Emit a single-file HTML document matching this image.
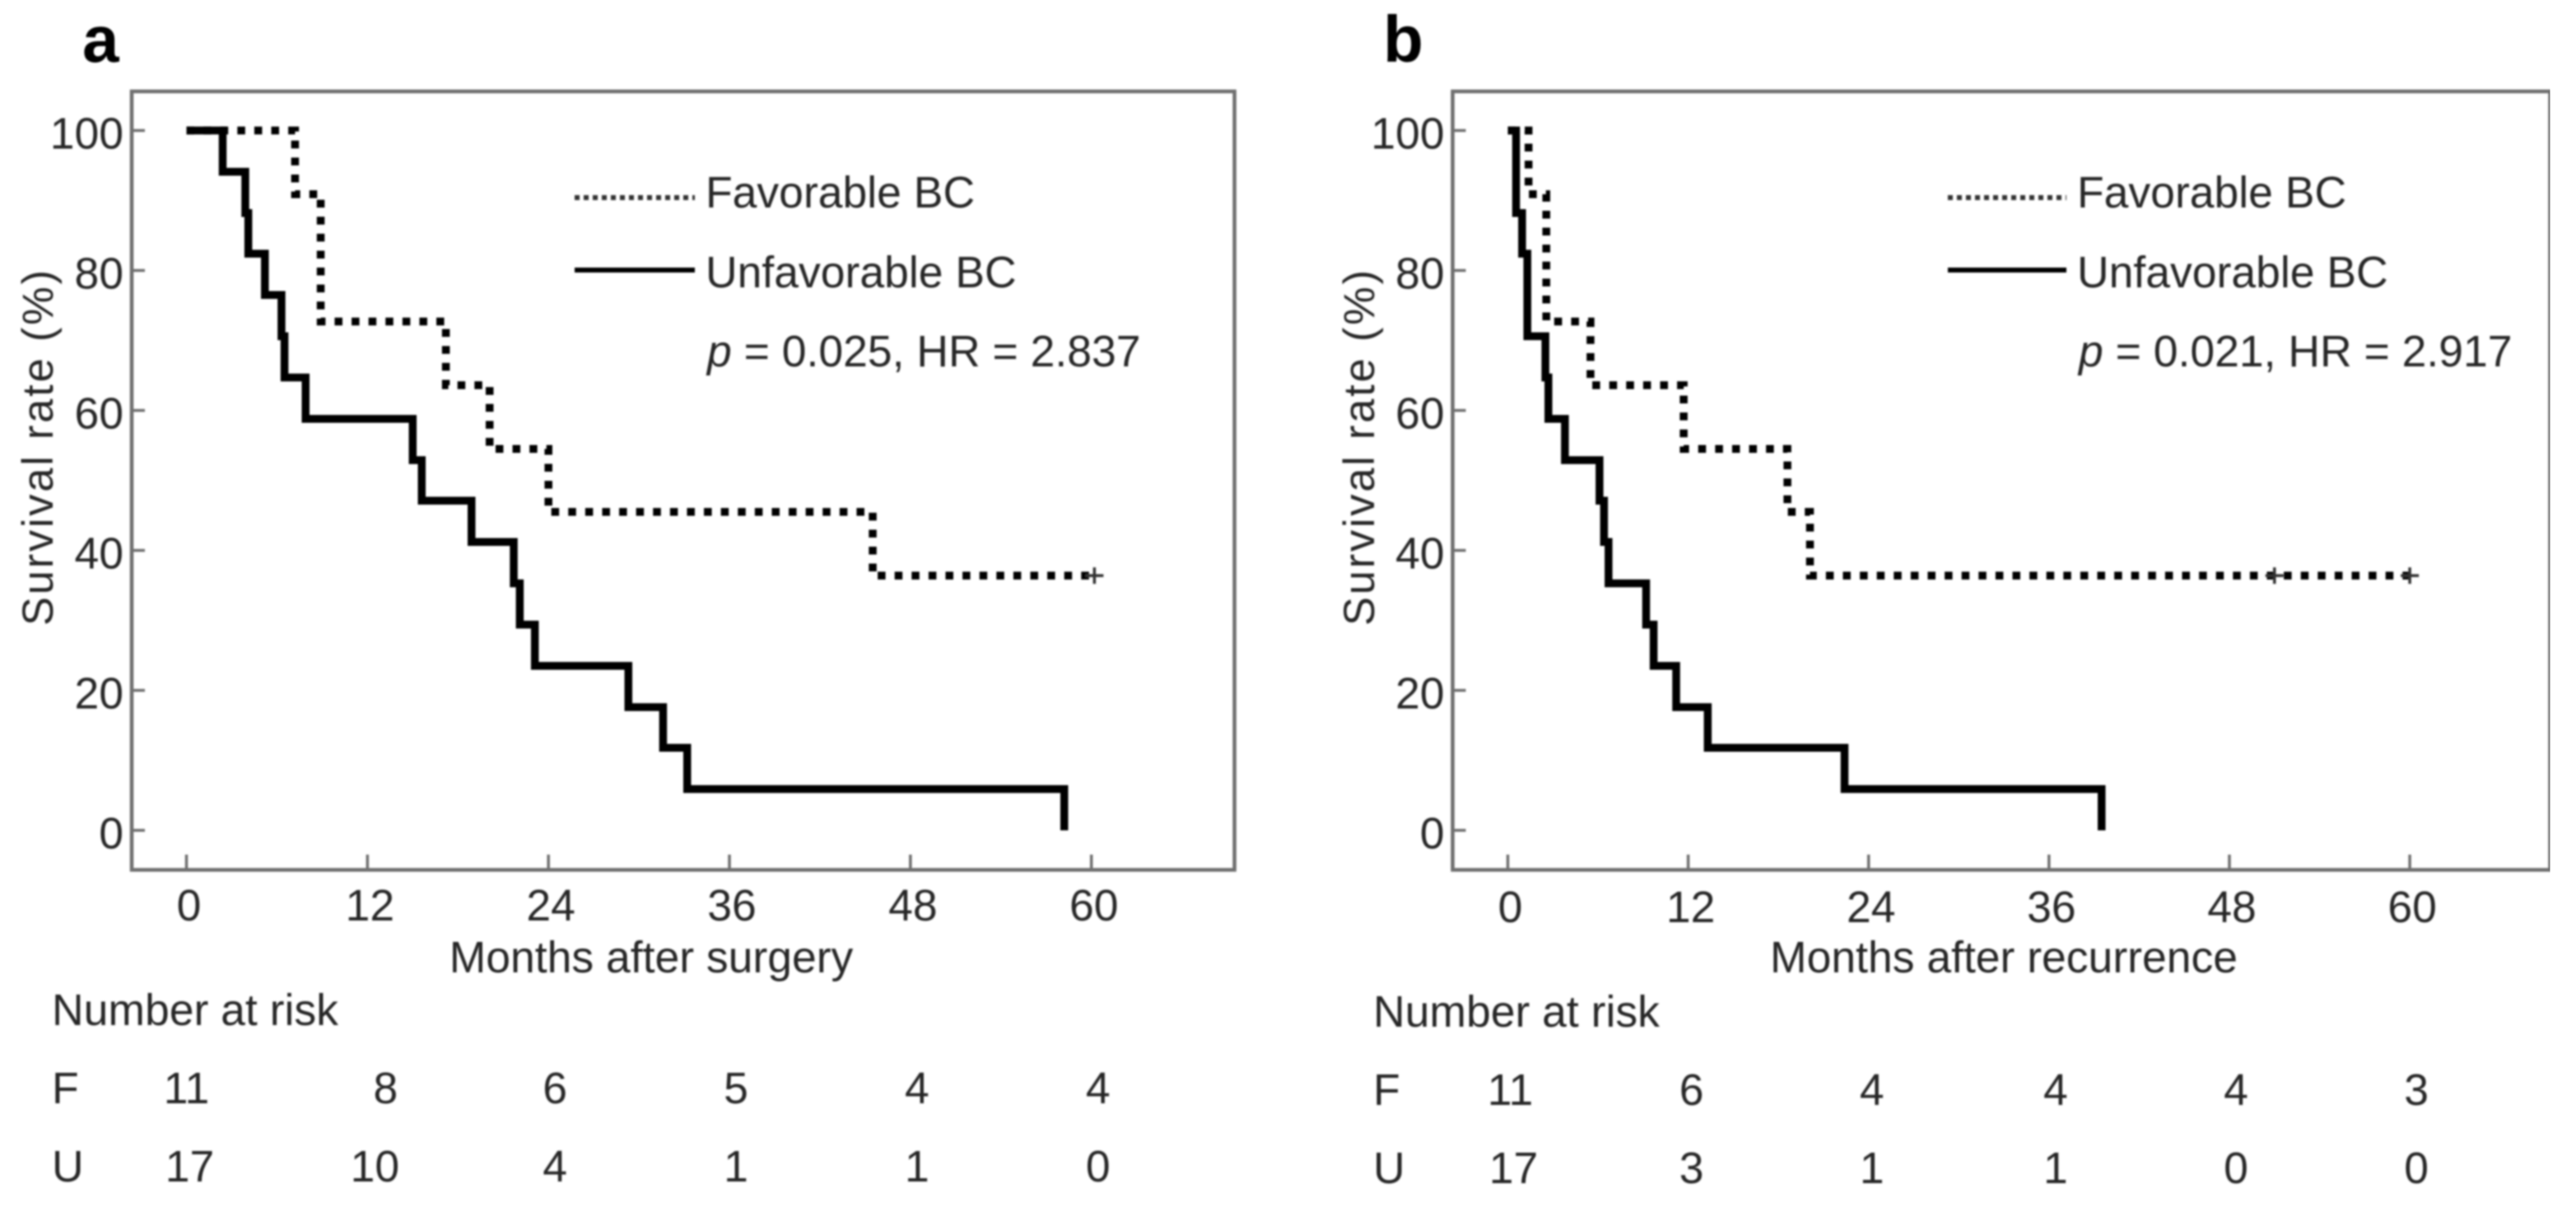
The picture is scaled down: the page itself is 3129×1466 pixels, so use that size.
<!DOCTYPE html>
<html lang="en">
<head>
<meta charset="utf-8">
<title>Kaplan-Meier survival curves</title>
<style>
html,body{margin:0;padding:0;background:#fff;}
svg{display:block;}
text{font-family:"Liberation Sans",Arial,sans-serif;font-size:53.5px;fill:#282828;}
</style>
</head>
<body>
<svg id="figure" xmlns="http://www.w3.org/2000/svg" width="3129" height="1466" viewBox="0 0 3129 1466">
<defs><filter id="soft" x="0" y="0" width="100%" height="100%"><feGaussianBlur stdDeviation="1"/></filter></defs>
<rect x="0" y="0" width="3129" height="1466" fill="#fff"/>
<g id="root" filter="url(#soft)">
<text x="100" y="75" style="font-size:80px;font-weight:bold;fill:#000">a</text>
<text x="1680" y="75" style="font-size:80px;font-weight:bold;fill:#000">b</text>

<text transform="translate(64,544) rotate(-90)" text-anchor="middle" style="font-size:52.5px" textLength="432" lengthAdjust="spacing">Survival rate (%)</text>
<text transform="translate(1669,544) rotate(-90)" text-anchor="middle" style="font-size:52.5px" textLength="432" lengthAdjust="spacing">Survival rate (%)</text>

<text x="791" y="1181" text-anchor="middle">Months after surgery</text>
<text x="2434" y="1181" text-anchor="middle">Months after recurrence</text>

<line x1="698" y1="240" x2="844" y2="240" stroke="#333" stroke-width="6" stroke-dasharray="6 5"/>
<text x="857" y="252">Favorable BC</text>
<line x1="698" y1="328" x2="844" y2="328" stroke="#000" stroke-width="6"/>
<text x="857" y="349">Unfavorable BC</text>
<text x="859" y="445"><tspan font-style="italic">p</tspan> = 0.025, HR = 2.837</text>

<line x1="2366" y1="240" x2="2510" y2="240" stroke="#333" stroke-width="6" stroke-dasharray="6 5"/>
<text x="2523" y="252">Favorable BC</text>
<line x1="2366" y1="328" x2="2510" y2="328" stroke="#000" stroke-width="6"/>
<text x="2523" y="349">Unfavorable BC</text>
<text x="2525" y="445"><tspan font-style="italic">p</tspan> = 0.021, HR = 2.917</text>

<text x="63" y="1245">Number at risk</text>
<text x="63" y="1340">F</text>
<text x="63" y="1435">U</text>
<text x="1668" y="1247">Number at risk</text>
<text x="1668" y="1342">F</text>
<text x="1668" y="1437">U</text>
</g>
</svg>
<script>
// Shared axis values
const xTickLabels = [0, 12, 24, 36, 48, 60];
const yTickLabels = [0, 20, 40, 60, 80, 100];

// Panel a: months after surgery
const aFavTimes = [0, 7.2, 8.9, 17.2, 20.1, 24.0, 45.5, 60.2];
const aFavSurvival = [100, 90.9, 72.7, 63.6, 54.5, 45.5, 36.4, 36.4];
const aFavCensored = [60.2];
const aUnfTimes = [0, 2.4, 3.9, 4.1, 5.2, 6.3, 6.5, 7.9, 15.0, 15.6, 18.9, 21.7, 22.1, 23.1, 29.3, 31.6, 33.2, 58.2];
const aUnfSurvival = [100, 94.1, 88.2, 82.4, 76.5, 70.6, 64.7, 58.8, 52.9, 47.1, 41.2, 35.3, 29.4, 23.5, 17.6, 11.8, 5.9, 0];
const aRiskFav = [11, 8, 6, 5, 4, 4];
const aRiskUnf = [17, 10, 4, 1, 1, 0];

// Panel b: months after recurrence
const bFavTimes = [0, 1.38, 2.56, 5.5, 11.7, 18.6, 20.1, 60];
const bFavSurvival = [100, 90.9, 72.7, 63.6, 54.5, 45.5, 36.4, 36.4];
const bFavCensored = [51, 60];
const bUnfTimes = [0, 0.55, 0.95, 1.3, 2.5, 2.7, 3.8, 6.1, 6.4, 6.7, 9.2, 9.7, 11.2, 13.3, 22.4, 39.5];
const bUnfSurvival = [100, 88.2, 82.4, 70.6, 64.7, 58.8, 52.9, 47.1, 41.2, 35.3, 29.4, 23.5, 17.6, 11.8, 5.9, 0];
const bRiskFav = [11, 6, 4, 4, 4, 3];
const bRiskUnf = [17, 3, 1, 1, 0, 0];

const SVG_NS = 'http://www.w3.org/2000/svg';
const root = document.getElementById('root');

function make(tag, attrs, text) {
  const el = document.createElementNS(SVG_NS, tag);
  for (const k in attrs) el.setAttribute(k, attrs[k]);
  if (text !== undefined) el.textContent = text;
  root.appendChild(el);
  return el;
}

function stepPath(times, values, sx, sy) {
  let d = 'M' + sx(times[0]) + ' ' + sy(values[0]);
  for (let i = 1; i < times.length; i++) {
    d += ' H' + sx(times[i]) + ' V' + sy(values[i]);
  }
  return d;
}

function drawPanel(p, name) {
  const sx = m => p.x0 + p.xStep * m;
  const sy = v => 1008.5 - 8.5 * v;

  const frame = make('rect', {x: p.left, y: 111, width: p.right - p.left, height: 945.5, fill: 'none', stroke: '#6f6f6f', 'stroke-width': 4.5});
  
  

  xTickLabels.forEach(function (t) {
    const tick = make('line', {x1: sx(t), x2: sx(t), y1: 1056, y2: 1038, stroke: '#6f6f6f', 'stroke-width': 3.5});
    
    
    const label = make('text', {x: sx(t) + 3, y: p.tickBase, 'text-anchor': 'middle'}, String(t));
    
    
  });

  yTickLabels.forEach(function (v) {
    const tick = make('line', {x1: p.left, x2: p.left + 16, y1: sy(v), y2: sy(v), stroke: '#6f6f6f', 'stroke-width': 3.5});
    
    
    const label = make('text', {x: p.left - 10, y: sy(v) + 22, 'text-anchor': 'end'}, String(v));
    
    
  });

  const fav = make('path', {d: stepPath(p.favT, p.favS, sx, sy), fill: 'none', stroke: '#000', 'stroke-width': 9.5, 'stroke-dasharray': '9.5 11.1'});
  
  

  const unf = make('path', {d: stepPath(p.unfT, p.unfS, sx, sy), fill: 'none', stroke: '#000', 'stroke-width': 9.5, 'stroke-linejoin': 'miter'});
  
  

  p.cens.forEach(function (c) {
    const last = p.favS[p.favS.length - 1];
    const mark = make('path', {d: 'M' + (sx(c) - 11) + ' ' + sy(last) + ' H' + (sx(c) + 11) + ' M' + sx(c) + ' ' + (sy(last) - 10) + ' V' + (sy(last) + 10), fill: 'none', stroke: '#333', 'stroke-width': 3.5});
    
    
  });

  p.riskF.forEach(function (n, i) {
    const el = make('text', {x: sx(xTickLabels[i]) + p.riskDxF[i], y: p.riskBase, 'text-anchor': 'middle'}, String(n));
    
    
  });
  p.riskU.forEach(function (n, i) {
    const el = make('text', {x: sx(xTickLabels[i]) + p.riskDxU[i], y: p.riskBase + 95, 'text-anchor': 'middle'}, String(n));
    
    
  });
}

drawPanel({
  left: 160, right: 1499.5, x0: 226.5, xStep: 18.32, tickBase: 1118, riskBase: 1340,
  riskDxF: [0, 22, 8, 8, 8, 8],
  riskDxU: [4, 9, 8, 8, 8, 8],
  favT: aFavTimes, favS: aFavSurvival, unfT: aUnfTimes, unfS: aUnfSurvival, cens: aFavCensored, riskF: aRiskFav, riskU: aRiskUnf
}, 'panel-a');

drawPanel({
  left: 1764.5, right: 3097.5, x0: 1831.5, xStep: 18.26, tickBase: 1120, riskBase: 1342,
  riskDxF: [3, 4, 4, 8, 8, 8],
  riskDxU: [7, 4, 4, 8, 8, 8],
  favT: bFavTimes, favS: bFavSurvival, unfT: bUnfTimes, unfS: bUnfSurvival, cens: bFavCensored, riskF: bRiskFav, riskU: bRiskUnf
}, 'panel-b');
</script>
</body>
</html>
